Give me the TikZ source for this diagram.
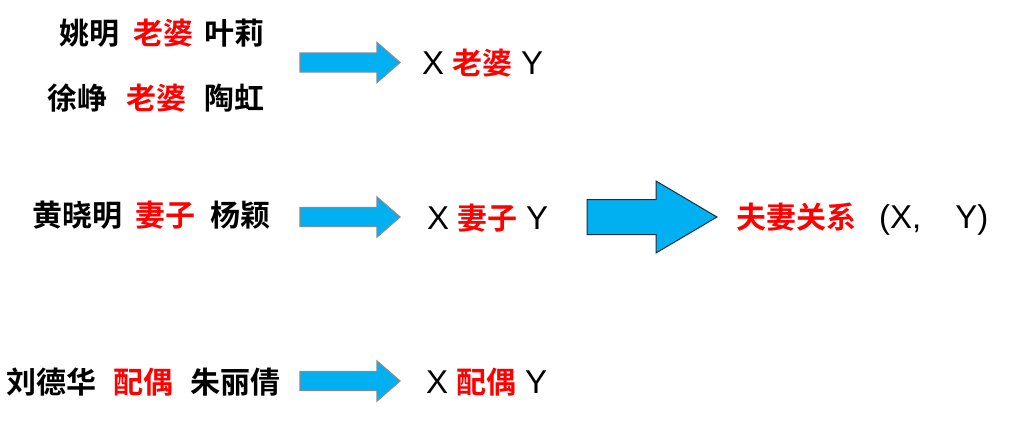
\documentclass[tikz,border=0pt]{standalone}
\usepackage{fontspec}
\usepackage{xcolor}
\setmainfont{Liberation Sans}
\newfontfamily\cjk{Noto Sans CJK SC}[BoldFont={Noto Sans CJK SC Bold}]
\usepackage{tikz}
\definecolor{arrowblue}{HTML}{00B0F0}
\definecolor{edgegray}{HTML}{7F8C9A}
\definecolor{edgedark}{HTML}{1F2D3D}
\newcommand{\rel}[1]{\textcolor{red}{#1}}
\newcommand{\hz}[1]{{\cjk\bfseries\fontsize{30}{30}\selectfont\rel{#1}}}
% block arrow: style, start, shaft length, head length, shaft half, head half
\newcommand{\fatarrow}[6]{\draw[#1] (#2) ++(0,-#5) -- ++(#3,0) -- ++(0,{-(#6-#5)}) -- ++(#4,#6) -- ++(-#4,#6) -- ++(0,{-(#6-#5)}) -- ++(-#3,0) -- cycle;}

\begin{document}
\begin{tikzpicture}[x=1pt, y=-1pt,
	pair/.style={anchor=west, inner sep=0pt, font=\cjk\bfseries\fontsize{30}{30}\selectfont},
	templ/.style={anchor=west, inner sep=0pt, font=\fontsize{33}{33}\selectfont},
	smallarrow/.style={fill=arrowblue, draw=edgegray, line width=1.2pt, line join=miter},
	bigarrow/.style={fill=arrowblue, draw=edgedark, line width=1pt, line join=miter}]
	\useasboundingbox[fill=white] (0,0) rectangle (1015,421);
	% example sentences
	\node[pair](p1) at (59,33){姚明\hspace{14.6pt}\rel{老婆}\hspace{10.6pt}叶莉};
	\node[pair](p2) at (47,98){徐峥\hspace{19.6pt}\rel{老婆}\hspace{17.6pt}陶虹};
	\node[pair](p3) at (32,215){黄晓明\hspace{13.6pt}\rel{妻子}\hspace{14.6pt}杨颖};
	\node[pair](p4) at (6,382){刘德华\hspace{17.6pt}\rel{配偶}\hspace{16.6pt}朱丽倩};
	% arrows
	\coordinate (a1) at (300,62.5);
	\coordinate (a2) at (300,217);
	\coordinate (a3) at (300,381);
	\coordinate (a4) at (587,217);
	\fatarrow{smallarrow}{a1}{77}{23}{9.5}{20}
	\fatarrow{smallarrow}{a2}{77}{23}{9.5}{20}
	\fatarrow{smallarrow}{a3}{77}{23}{9.5}{20}
	\fatarrow{bigarrow}{a4}{69}{61}{17.5}{36}
	% templates
	\node[templ](t1) at (422,63){X\hspace{8pt}\hz{老婆}\hspace{9pt}Y};
	\node[templ](t2) at (427,218){X\hspace{8pt}\hz{妻子}\hspace{9pt}Y};
	\node[templ](t3) at (426,382){X\hspace{8pt}\hz{配偶}\hspace{9pt}Y};
	% relation
	\node[templ](r) at (736,219){\hz{夫妻关系}\hspace{23pt}(X,\hspace{34pt}Y)};
\end{tikzpicture}
\end{document}
